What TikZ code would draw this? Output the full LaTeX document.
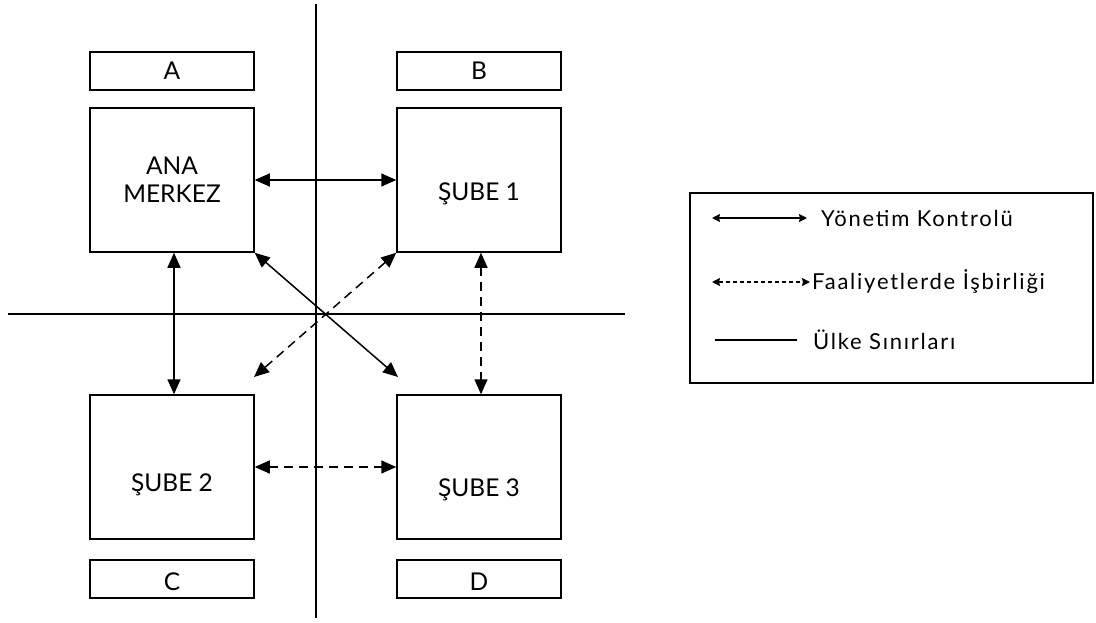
\documentclass[tikz,border=0pt]{standalone}
\usepackage{fontspec}
\setmainfont{Lato}
\usetikzlibrary{arrows.meta}
\begin{document}
\begin{tikzpicture}[x=1pt,y=-1pt,
  box/.style={draw, line width=1.5pt, inner sep=0pt, minimum width=164pt, align=center,
    font=\fontsize{24.5}{29}\selectfont},
  smallbox/.style={box, minimum height=38pt},
  bigbox/.style={box, minimum height=144pt},
  boxtext/.style={font=\fontsize{24.5}{29}\selectfont, inner sep=0pt},
  border/.style={line width=1.5pt},
  ctrl/.style={line width=1.5pt, {Triangle[length=15pt,width=13pt]}-{Triangle[length=15pt,width=13pt]}},
  coop/.style={ctrl, dash pattern=on 9pt off 6pt},
  legctrl/.style={line width=1.5pt, {Stealth[length=8pt,width=8pt,inset=1pt]}-{Stealth[length=8pt,width=8pt,inset=1pt]}},
  legcoop/.style={legctrl, dash pattern=on 4pt off 3pt},
  legtext/.style={anchor=west, inner sep=0pt, font=\fontsize{22}{26}\selectfont\addfontfeatures{LetterSpace=8}}
]
\useasboundingbox (0,0) rectangle (1096,623);
% boxes
\node[smallbox] (A) at (172,71) {A};
\node[bigbox] (main) at (172,180) {ANA\\[-1pt]MERKEZ};
\node[smallbox] (B) at (479,71) {B};
\node[bigbox, label={[boxtext, yshift=-14pt]center:ŞUBE 1}] (s1) at (479,180) {};
\node[bigbox, label={[boxtext, yshift=-18pt]center:ŞUBE 2}] (s2) at (172,467) {};
\node[bigbox, label={[boxtext, yshift=-23pt]center:ŞUBE 3}] (s3) at (479,467) {};
\node[smallbox, label={[boxtext, yshift=-3pt]center:C}] (C) at (172,579) {};
\node[smallbox, label={[boxtext, yshift=-3pt]center:D}] (D) at (479,579) {};
% country borders
\coordinate (vt) at (316,4);
\coordinate (vb) at (316,618);
\coordinate (hl) at (8,314);
\coordinate (hr) at (625,314);
\draw[border] (vt) -- (vb);
\draw[border] (hl) -- (hr);
% connectors
\coordinate (d1) at (398,377);
\coordinate (d2) at (254,377);
\draw[ctrl] (main.east) -- (s1.west);
\draw[ctrl] ([xshift=2pt]main.south) -- ([xshift=2pt]s2.north);
\draw[ctrl] (main.south east) -- (d1);
\draw[coop] (s1.south west) -- (d2);
\draw[coop] ([xshift=2pt]s1.south) -- ([xshift=2pt]s3.north);
\draw[coop] (s2.east) -- (s3.west);
% legend
\node[draw, line width=1.5pt, minimum width=403pt, minimum height=190pt, inner sep=0pt] (leg) at (891.5,288) {};
\coordinate (l1a) at (712,218); \coordinate (l1b) at (807,218);
\coordinate (l2a) at (712,282); \coordinate (l2b) at (810,282);
\coordinate (l3a) at (715,340); \coordinate (l3b) at (797,340);
\draw[legctrl] (l1a) -- (l1b);
\draw[legcoop] (l2a) -- (l2b);
\draw[line width=1.2pt] (l3a) -- (l3b);
\node[legtext] (t1) at (821,218) {Yönetim Kontrolü};
\node[legtext] (t2) at (812,282) {Faaliyetlerde İşbirliği};
\node[legtext] (t3) at (813,340) {Ülke Sınırları};
\end{tikzpicture}
\end{document}
